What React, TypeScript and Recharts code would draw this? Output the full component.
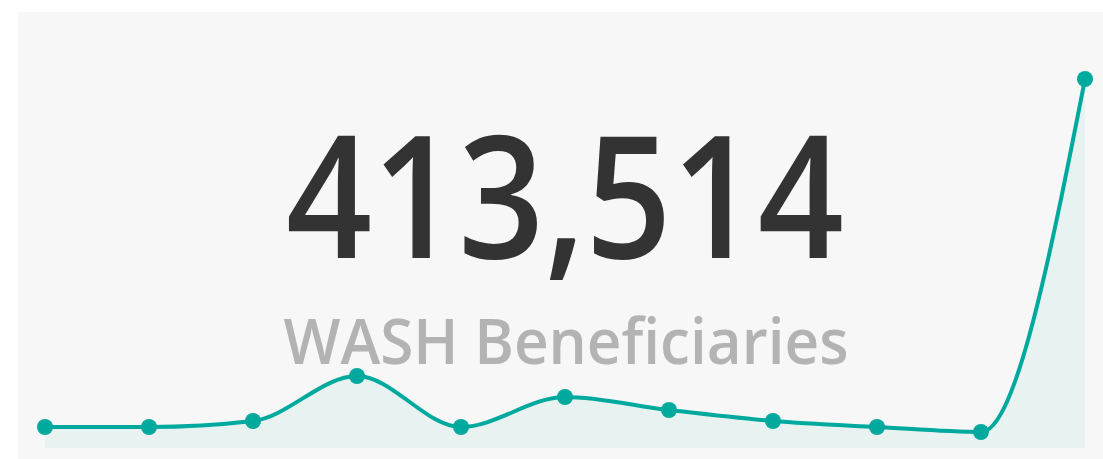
import { AreaChart, Area, XAxis, YAxis } from "recharts";

const periods = ["P1", "P2", "P3", "P4", "P5", "P6", "P7", "P8", "P9", "P10", "P11"];
const beneficiaries = [21, 21, 27, 72, 21, 51, 38, 27, 21, 16, 369];
const kpiValue = "413,514";
const kpiLabel = "WASH Beneficiaries";

const data = periods.map((p, i) => ({ period: p, value: beneficiaries[i] }));

const TEAL = "#00a99d";

export default function App() {
  return (
    <div
      style={{
        position: "fixed",
        left: 0,
        top: 0,
        right: 0,
        bottom: 0,
        background: "#ffffff",
        overflow: "hidden",
      }}
    >
      <div
        style={{
          position: "absolute",
          left: 18,
          top: 12,
          right: -10,
          bottom: -10,
          background: "#f7f7f7",
        }}
      >
        <svg width={1085} height={447} style={{ position: "absolute", left: 0, top: 0 }}>
          <text
            x={547}
            y={246}
            textAnchor="middle"
            fontFamily="'Open Sans', sans-serif"
            fontWeight={600}
            fontSize={171}
            fill="#333333"
            textLength={558}
            lengthAdjust="spacingAndGlyphs"
          >
            {kpiValue}
          </text>
          <text
            x={548}
            y={352}
            textAnchor="middle"
            fontFamily="'Open Sans', sans-serif"
            fontWeight={600}
            fontSize={63}
            fill="#b3b3b3"
            textLength={565}
            lengthAdjust="spacingAndGlyphs"
          >
            {kpiLabel}
          </text>
        </svg>
        <div style={{ position: "absolute", left: 0, top: 0 }}>
          <AreaChart
            width={1085}
            height={447}
            data={data}
            margin={{ top: 67, right: 18, bottom: 11, left: 27 }}
          >
            <XAxis dataKey="period" hide padding={{ left: 0, right: 0 }} />
            <YAxis hide domain={[0, "dataMax"]} />
            <Area
              type="monotone"
              dataKey="value"
              stroke={TEAL}
              strokeWidth={4}
              fill="#e8f3f1"
              fillOpacity={1}
              dot={{ r: 8, fill: TEAL, stroke: TEAL, strokeWidth: 0 }}
              activeDot={false}
              isAnimationActive={false}
            />
          </AreaChart>
        </div>
      </div>
    </div>
  );
}
